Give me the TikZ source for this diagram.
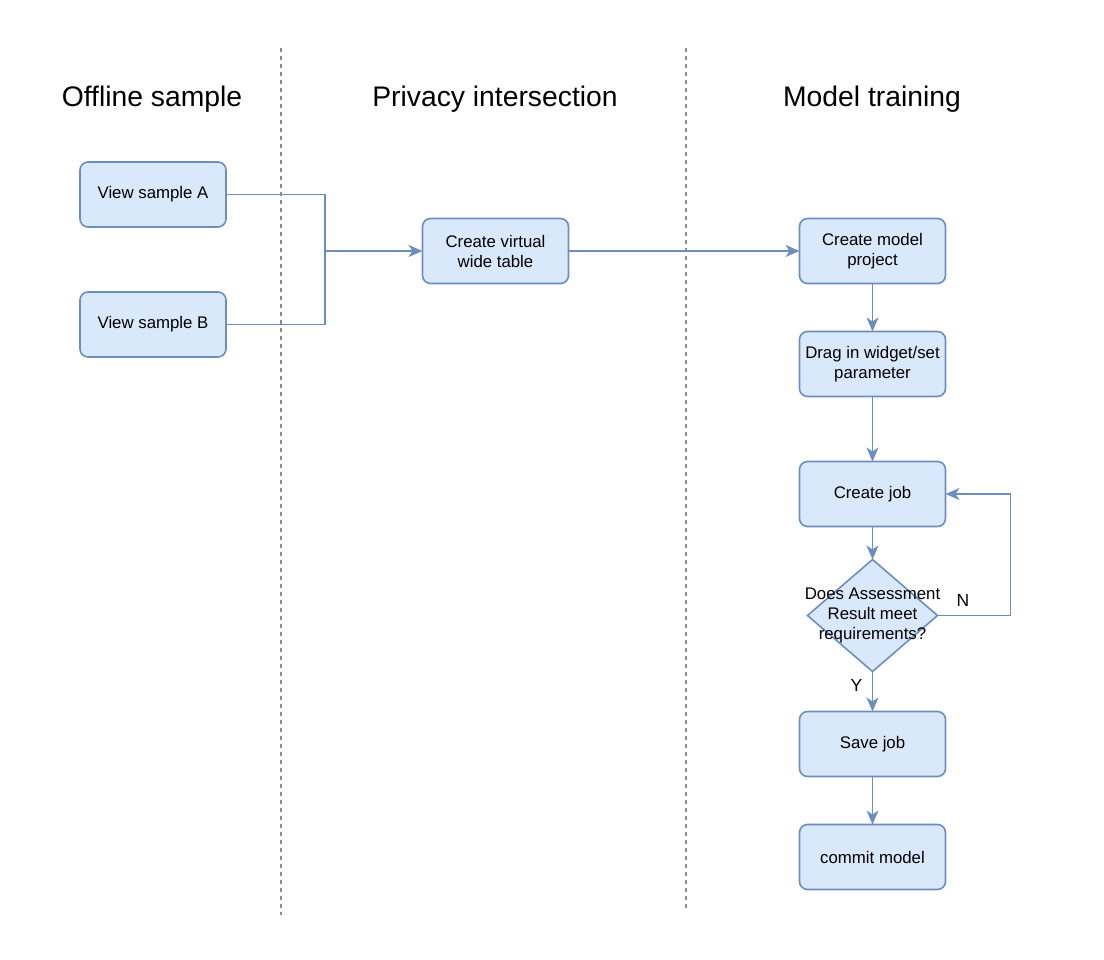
\documentclass[tikz,border=0pt]{standalone}
\usepackage{fontspec}
\setmainfont{Liberation Sans}
\usetikzlibrary{positioning,arrows.meta,calc,shapes.geometric}

\definecolor{boxfill}{HTML}{DAE8FC}
\definecolor{boxline}{HTML}{6C8EBF}

\begin{document}
\begin{tikzpicture}[
  x=1pt, y=-1pt,
  font=\fontsize{16.8}{20}\selectfont,
  >={Stealth[length=14pt, width=12pt, inset=4pt]},
  box/.style={draw=boxline, fill=boxfill, line width=1.6pt, rounded corners=8pt,
              align=center, inner sep=2pt, outer sep=0pt,
              minimum width=146pt, minimum height=65pt},
  decision/.style={diamond, draw=boxline, fill=boxfill, line width=1.6pt,
              inner sep=0pt, outer sep=0pt, minimum width=130pt, minimum height=112pt},
  head/.style={font=\fontsize{28.3}{32}\selectfont},
  lane/.style={draw=black!45, line width=1.2pt, dash pattern=on 4pt off 4pt},
  arr/.style={->, line width=1.8pt, boxline},
  link/.style={line width=1.8pt, boxline},
  lbl/.style={font=\fontsize{17.5}{20}\selectfont, text=black},
]

\useasboundingbox (0,0) rectangle (1104,960);

%% ---------- lanes ----------
\node[head] (hoff) at (152,99) {Offline sample};
\node[head] (hpriv) at (495,99) {Privacy intersection};
\node[head] (hmodel) at (872,99) {Model training};

\coordinate (lane1t) at (281,48);
\coordinate (lane1b) at (281,915);
\coordinate (lane2t) at (686,48);
\coordinate (lane2b) at (686,910);
\draw[lane] (lane1t) -- (lane1b);
\draw[lane] (lane2t) -- (lane2b);

%% ---------- samples ----------
\node[box] (sampa) at (153,194.5) {View sample A};
\node[box, below=65pt of sampa] (sampb) {View sample B};

%% ---------- intersection ----------
\node[box] (vtable) at (495.5,251) {Create virtual\\ wide table};

\coordinate (join) at (325,251);
\draw[link] (sampa.east) -| (join);
\draw[link] (sampb.east) -| (join);
\draw[arr] (join) -- (vtable.west);

%% ---------- model training ----------
\node[box, right=231pt of vtable] (mproject) {Create model\\ project};
\node[box, below=48pt of mproject] (drag) {Drag in widget/set\\ parameter};
\node[box, below=65pt of drag] (cjob) {Create job};
\node[decision, below=33pt of cjob] (check) {};
\node[align=center] (checktxt) at (check) {Does Assessment\\ Result meet\\ requirements?};
\node[box, below=40pt of check] (save) {Save job};
\node[box, below=48pt of save] (commit) {commit model};

\draw[arr] (vtable) -- (mproject);
\draw[arr] (mproject) -- (drag);
\draw[arr] (drag) -- (cjob);
\draw[arr] (cjob) -- (check);
\draw[arr] (check) -- node[lbl, left=6pt, pos=0.35] {Y} (save);
\draw[arr] (save) -- (commit);

\coordinate (loop) at ($(check.east)+(73,0)$);
\draw[arr] (check.east) -- node[lbl, above=5pt, pos=0.35] {N} (loop) |- (cjob.east);

\end{tikzpicture}
\end{document}
